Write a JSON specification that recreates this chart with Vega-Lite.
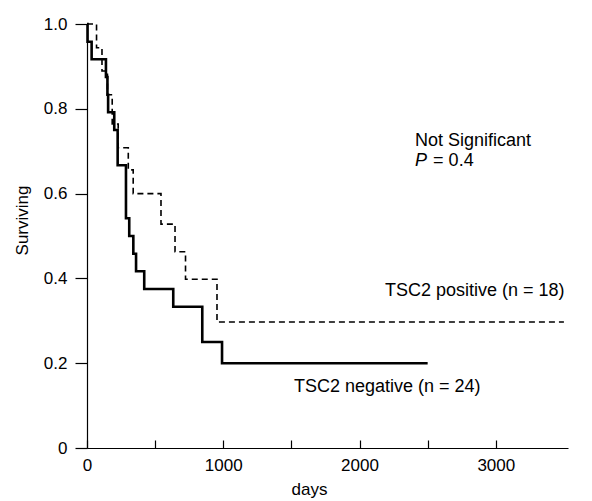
{
  "$schema": "https://vega.github.io/schema/vega-lite/v6.json",
  "autosize": {"type": "none"},
  "padding": {"left": 87, "top": 24, "right": 24, "bottom": 53},
  "width": 481,
  "height": 424,
  "background": "white",
  "config": {
    "view": {"stroke": null},
    "font": "Liberation Sans",
    "axis": {"grid": false, "domainColor": "#000", "tickColor": "#000", "labelColor": "#000", "titleColor": "#000", "labelFont": "Liberation Sans", "titleFont": "Liberation Sans", "labelFontSize": 17, "titleFontSize": 17, "titleFontWeight": "normal", "domainWidth": 1.2, "tickWidth": 1.2}
  },
  "datasets": {
    "curves": [
      {"group": "negative", "days": 0, "surv": 1.0},
      {"group": "negative", "days": 4, "surv": 0.958},
      {"group": "negative", "days": 34, "surv": 0.917},
      {"group": "negative", "days": 139, "surv": 0.875},
      {"group": "negative", "days": 150, "surv": 0.833},
      {"group": "negative", "days": 155, "surv": 0.792},
      {"group": "negative", "days": 200, "surv": 0.75},
      {"group": "negative", "days": 225, "surv": 0.667},
      {"group": "negative", "days": 286, "surv": 0.542},
      {"group": "negative", "days": 310, "surv": 0.5},
      {"group": "negative", "days": 340, "surv": 0.458},
      {"group": "negative", "days": 360, "surv": 0.417},
      {"group": "negative", "days": 420, "surv": 0.375},
      {"group": "negative", "days": 633, "surv": 0.333},
      {"group": "negative", "days": 846, "surv": 0.25},
      {"group": "negative", "days": 991, "surv": 0.2},
      {"group": "negative", "days": 2500, "surv": 0.2},
      {"group": "positive", "days": 0, "surv": 1.0},
      {"group": "positive", "days": 70, "surv": 0.944},
      {"group": "positive", "days": 110, "surv": 0.889},
      {"group": "positive", "days": 150, "surv": 0.833},
      {"group": "positive", "days": 185, "surv": 0.764},
      {"group": "positive", "days": 229, "surv": 0.708},
      {"group": "positive", "days": 303, "surv": 0.656},
      {"group": "positive", "days": 339, "surv": 0.6},
      {"group": "positive", "days": 543, "surv": 0.528},
      {"group": "positive", "days": 646, "surv": 0.463},
      {"group": "positive", "days": 723, "surv": 0.398},
      {"group": "positive", "days": 954, "surv": 0.297},
      {"group": "positive", "days": 3500, "surv": 0.297}
    ],
    "labels": [
      {"days": 2407, "surv": 0.712, "text": "Not Significant"},
      {"days": 2540, "surv": 0.664, "text": "= 0.4"},
      {"days": 2187, "surv": 0.358, "text": "TSC2 positive (n = 18)"},
      {"days": 1519, "surv": 0.132, "text": "TSC2 negative (n = 24)"}
    ],
    "italic": [
      {"days": 2407, "surv": 0.664, "text": "P"}
    ]
  },
  "layer": [
    {
      "data": {"name": "curves"},
      "transform": [{"filter": "datum.group === 'positive'"}],
      "mark": {"type": "line", "interpolate": "step-after", "color": "#000", "strokeWidth": 1.6, "strokeDash": [6, 4]},
      "encoding": {
        "x": {"field": "days", "type": "quantitative", "scale": {"domain": [0, 3530], "nice": false, "zero": false},
          "axis": {"values": [0, 500, 1000, 1500, 2000, 2500, 3000], "labelExpr": "datum.value % 1000 === 0 ? datum.label : ''", "format": "d", "tickSize": -8, "labelPadding": 17, "labelFlush": false, "title": "days", "titlePadding": 8, "titleX": 222}},
        "y": {"field": "surv", "type": "quantitative", "scale": {"domain": [0, 1], "nice": false},
          "axis": {"values": [0, 0.2, 0.4, 0.6, 0.8, 1.0], "labelExpr": "datum.value === 0 ? '0' : format(datum.value, '.1f')", "tickSize": 12, "labelPadding": 8, "title": "Surviving", "titlePadding": 12, "titleY": 196}}
      }
    },
    {
      "data": {"name": "curves"},
      "transform": [{"filter": "datum.group === 'negative'"}],
      "mark": {"type": "line", "interpolate": "step-after", "color": "#000", "strokeWidth": 2.6},
      "encoding": {
        "x": {"field": "days", "type": "quantitative"},
        "y": {"field": "surv", "type": "quantitative"}
      }
    },
    {
      "data": {"name": "labels"},
      "mark": {"type": "text", "align": "left", "baseline": "alphabetic", "fontSize": 18, "color": "#000", "font": "Liberation Sans"},
      "encoding": {
        "x": {"field": "days", "type": "quantitative"},
        "y": {"field": "surv", "type": "quantitative"},
        "text": {"field": "text"}
      }
    },
    {
      "data": {"name": "italic"},
      "mark": {"type": "text", "align": "left", "baseline": "alphabetic", "fontSize": 18, "fontStyle": "italic", "color": "#000", "font": "Liberation Sans"},
      "encoding": {
        "x": {"field": "days", "type": "quantitative"},
        "y": {"field": "surv", "type": "quantitative"},
        "text": {"field": "text"}
      }
    }
  ]
}
